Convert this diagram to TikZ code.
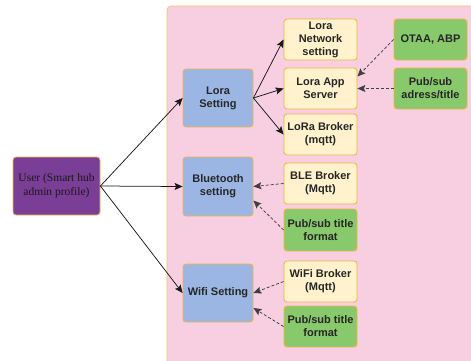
\documentclass[tikz,border=0pt]{standalone}
\usepackage{fontspec}
\setmainfont{Liberation Sans}
\newfontfamily\serifface{Liberation Serif}
\usetikzlibrary{arrows.meta}
\definecolor{panelpink}{HTML}{F8CFE0}
\definecolor{panelline}{HTML}{F2C46A}
\definecolor{setblue}{HTML}{9BB6E3}
\definecolor{itemyellow}{HTML}{FFF2CC}
\definecolor{itemgreen}{HTML}{88C96C}
\definecolor{userpurple}{HTML}{7A3E96}
\definecolor{boxline}{HTML}{F0B545}
\tikzset{
  box/.style={draw=boxline, line width=0.8pt, rounded corners=3pt, align=center,
    inner sep=1pt, font=\fontsize{11}{13}\selectfont\bfseries, text=black!85},
  setting/.style={box, fill=setblue, minimum width=70pt, minimum height=58pt},
  item/.style={box, fill=itemyellow, minimum width=73pt, minimum height=41pt},
  greenitem/.style={box, fill=itemgreen, minimum width=73pt, minimum height=41pt},
  link/.style={draw=black!90, line width=0.75pt,
    -{Stealth[length=8pt,width=7pt,inset=1.5pt]}},
  dlink/.style={link, draw=black!75, dash pattern=on 3pt off 2pt}
}
\begin{document}
\begin{tikzpicture}[x=1pt,y=-1pt]
\useasboundingbox (0,0) rectangle (471,360);
% background panel
\fill[panelpink, draw=panelline, line width=0.8pt, rounded corners=4pt]
  (167,6) rectangle (490,380);

% user
\node[box, fill=userpurple, minimum width=87pt, minimum height=58pt,
  font=\serifface\fontsize{11.5}{14}\selectfont, text=black!90] (user) at (56.5,186)
  {User (Smart hub\\admin profile)};

% settings
\node[setting] (lora) at (218,98) {Lora\\Setting};
\node[setting, minimum height=59pt] (bt) at (218,186.5) {Bluetooth\\setting};
\node[setting] (wifi) at (218,293) {Wifi Setting};

% items
\node[item] (net) at (320.5,39.5) {Lora\\Network\\setting};
\node[item] (app) at (320.5,88.5) {Lora App\\Server};
\node[item] (lbroker) at (320.5,134.5) {LoRa Broker\\(mqtt)};
\node[item] (ble) at (320.5,183.5) {BLE Broker\\(Mqtt)};
\node[greenitem, minimum height=42pt] (ps1) at (320.5,230) {Pub/sub title\\format};
\node[item] (wbroker) at (320.5,281.5) {WiFi Broker\\(Mqtt)};
\node[greenitem] (ps2) at (320.5,326.5) {Pub/sub title\\format};
\node[greenitem] (otaa) at (430.5,39.5) {OTAA, ABP};
\node[greenitem] (psa) at (430.5,88.5) {Pub/sub\\adress/title};

% connections
\draw[link] (user.east) -- (lora.west);
\draw[link] (user.east) -- (bt.west);
\draw[link] (user.east) -- (wifi.west);
\draw[link] (lora.east) -- (net.west);
\draw[link] (lora.east) -- (app.west);
\draw[link] (lora.east) -- (lbroker.west);
\draw[dlink] (otaa.west) -- ([yshift=12pt]app.east);
\draw[dlink] (psa.west) -- (app.east);
\draw[dlink] (ble.west) -- (bt.east);
\draw[dlink] (ps1.west) -- ([yshift=-14pt]bt.east);
\draw[dlink] (wbroker.west) -- (wifi.east);
\draw[dlink] (ps2.west) -- ([yshift=-15pt]wifi.east);
\end{tikzpicture}
\end{document}
